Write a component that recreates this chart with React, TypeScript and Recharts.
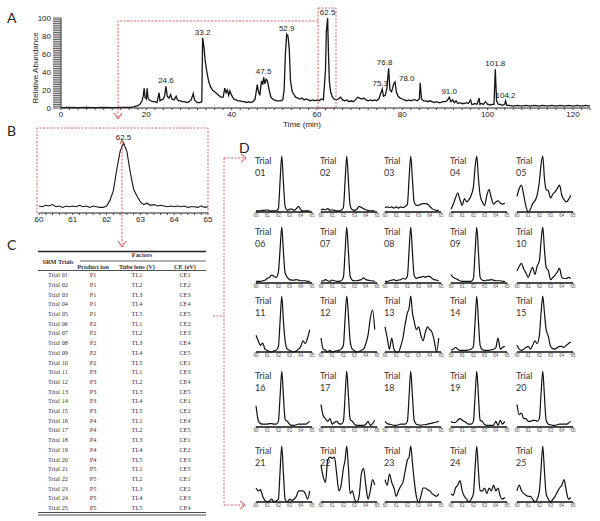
import React from 'react';
import { LineChart, Line, XAxis, YAxis } from 'recharts';

// Panel A: full SRM chromatogram, [time (min), relative abundance]
const SCAN_A: [number, number][] = [
    [0, 0.5], [2, 0.6], [4, 0.4], [6, 0.6], [8, 0.5], [10, 0.6], [12, 0.4], [14, 0.6], [16, 0.8], [17, 1.2],
    [18, 2.5], [18.5, 4], [19, 8], [19.3, 14], [19.5, 22], [19.7, 12], [20, 10], [20.2, 22], [20.4, 11], [20.7, 9],
    [21, 8], [21.5, 7], [22, 7], [22.5, 6], [23, 17], [23.2, 8], [23.5, 9], [24, 10], [24.3, 14], [24.6, 24],
    [24.9, 13], [25.3, 11], [25.7, 15], [26, 10], [26.5, 9], [27, 13], [27.3, 9], [27.6, 8], [28, 8], [28.5, 7],
    [29, 7], [29.5, 6], [30, 7], [30.5, 9], [31, 16], [31.3, 9], [31.7, 7], [32, 6], [32.5, 6], [33, 7],
    [33.2, 78], [33.5, 68], [33.8, 52], [34.2, 40], [34.6, 30], [35, 24], [35.5, 20], [36, 18], [36.5, 16], [37, 14],
    [37.5, 12], [38, 12], [38.4, 22], [38.7, 17], [39, 20], [39.3, 14], [39.6, 19], [40, 14], [40.5, 10], [41, 9],
    [41.5, 8], [42, 8], [42.5, 7], [43, 7], [43.5, 6], [44, 7], [44.5, 6], [45, 7], [45.5, 10], [46, 26],
    [46.3, 18], [46.6, 14], [47, 30], [47.3, 26], [47.5, 34], [47.8, 27], [48.1, 32], [48.4, 30], [48.8, 20], [49.2, 12],
    [49.6, 10], [50, 9], [50.5, 8], [51, 8], [51.5, 8], [52, 9], [52.3, 20], [52.6, 60], [52.9, 82], [53.2, 80],
    [53.5, 66], [53.8, 30], [54.2, 18], [54.6, 15], [55, 12], [55.5, 11], [56, 10], [56.5, 11], [57, 9], [57.5, 10],
    [58, 9], [58.5, 8], [59, 9], [59.5, 8], [60, 9], [60.5, 8], [61, 10], [61.5, 9], [62, 42], [62.2, 85],
    [62.5, 100], [62.7, 60], [62.9, 30], [63.2, 18], [63.6, 12], [64, 10], [64.5, 9], [65, 10], [65.5, 12], [66, 9],
    [66.5, 8], [67, 9], [67.5, 7], [68, 8], [68.5, 7], [69, 9], [69.5, 12], [70, 11], [70.5, 10], [71, 11],
    [71.5, 9], [72, 8], [72.5, 9], [73, 8], [73.5, 9], [74, 8], [74.5, 10], [75, 17], [75.3, 21], [75.6, 13],
    [76, 14], [76.4, 22], [76.8, 44], [77.1, 20], [77.5, 18], [78, 27], [78.3, 29], [78.6, 18], [79, 13], [79.5, 11],
    [80, 10], [80.5, 9], [81, 8], [81.5, 9], [82, 8], [82.5, 9], [83, 9], [83.5, 8], [84, 10], [84.2, 28],
    [84.5, 10], [85, 8], [85.5, 8], [86, 7], [86.5, 8], [87, 7], [87.5, 6], [88, 7], [88.5, 6], [89, 6],
    [89.5, 7], [90, 7], [90.5, 8], [91, 12], [91.4, 7], [91.8, 9], [92.2, 6], [92.6, 8], [93, 5], [93.5, 6],
    [94, 5], [94.5, 5], [95, 6], [95.5, 5], [96, 9], [96.3, 4], [96.6, 4], [97, 5], [97.5, 4], [98, 11],
    [98.2, 4], [98.5, 5], [99, 4], [99.5, 7], [100, 4], [100.3, 4], [100.6, 3], [101, 4], [101.5, 4], [101.8, 43],
    [102.1, 8], [102.5, 4], [103, 4], [103.5, 3], [104, 4], [104.2, 8], [104.5, 3], [105, 3], [106, 2], [107, 3],
    [108, 2], [109, 3], [110, 2], [111, 3], [112, 2], [113, 3], [114, 2], [115, 3], [116, 2], [117, 3],
    [118, 2], [119, 3], [120, 2], [121, 3], [122, 2], [123, 3], [124, 2],
];
const PEAKS_A: [number, string][] = [
    [24.6, '24.6'], [33.2, '33.2'], [47.5, '47.5'], [52.9, '52.9'], [62.5, '62.5'], [75.3, '75.3'],
    [76.8, '76.8'], [78, '78.0'], [91, '91.0'], [101.8, '101.8'], [104.2, '104.2'],
];

// Panel B: zoom on 60-65 min
const ZOOM_B_TIMES = [
    60.0, 60.1, 60.2, 60.3, 60.4, 60.5, 60.6, 60.7, 60.8, 60.9, 61.0, 61.1, 61.2, 61.3, 61.4, 61.5, 61.6,
    61.7, 61.8, 61.9, 62.0, 62.1, 62.2, 62.3, 62.4, 62.5, 62.6, 62.7, 62.8, 62.9, 63.0, 63.1, 63.2, 63.3,
    63.4, 63.5, 63.6, 63.7, 63.8, 63.9, 64.0, 64.1, 64.2, 64.3, 64.4, 64.5, 64.6, 64.7, 64.8, 64.9, 65.0,
];
const ZOOM_B_VALUES = [
    10, 9, 11, 10, 12, 9, 10, 8, 10, 9, 10, 9, 11, 9, 10, 8, 10,
    9, 8, 8, 10, 18, 32, 62, 88, 100, 88, 58, 34, 24, 16, 12, 14, 11,
    12, 10, 11, 10, 9, 10, 9, 10, 9, 10, 8, 9, 9, 8, 10, 8, 9,
];

// Panel C: SRM trial design
const PRODUCT_IONS = [
    'P1', 'P1', 'P1', 'P1', 'P1', 'P2', 'P2', 'P2', 'P2', 'P2', 'P3', 'P3', 'P3',
    'P3', 'P3', 'P4', 'P4', 'P4', 'P4', 'P4', 'P5', 'P5', 'P5', 'P5', 'P5',
];
const TUBE_LENS = [
    'TL1', 'TL2', 'TL3', 'TL4', 'TL5', 'TL1', 'TL2', 'TL3', 'TL4', 'TL5', 'TL1', 'TL2', 'TL3',
    'TL4', 'TL5', 'TL1', 'TL2', 'TL3', 'TL4', 'TL5', 'TL1', 'TL2', 'TL3', 'TL4', 'TL5',
];
const COLLISION_E = [
    'CE1', 'CE2', 'CE3', 'CE4', 'CE5', 'CE2', 'CE3', 'CE4', 'CE5', 'CE1', 'CE3', 'CE4', 'CE5',
    'CE1', 'CE2', 'CE4', 'CE5', 'CE1', 'CE2', 'CE3', 'CE5', 'CE1', 'CE2', 'CE3', 'CE4',
];
const TRIAL_IDS = [
    '01', '02', '03', '04', '05', '06', '07', '08', '09', '10', '11', '12', '13',
    '14', '15', '16', '17', '18', '19', '20', '21', '22', '23', '24', '25',
];

// Panel D: trial traces over 60-64.8 min
const D_TIMES = [
    60, 60.2, 60.4, 60.6, 60.8, 61, 61.2, 61.4, 61.6, 61.8,
    62, 62.15, 62.3, 62.45, 62.6,
    62.8, 63, 63.2, 63.4, 63.6, 63.8, 64, 64.2, 64.4, 64.6, 64.8,
];
const TRIAL_TRACES: number[][] = [
    [2, 2, 2, 3, 3, 4, 2, 2, 2, 2, 6, 55, 100, 52, 10, 3, 5, 5, 3, 6, 10, 4, 2, 2, 2, 2],
    [3, 5, 4, 6, 3, 4, 3, 2, 2, 3, 8, 55, 100, 55, 12, 4, 3, 5, 10, 8, 6, 4, 3, 2, 2, 2],
    [8, 9, 8, 9, 7, 9, 7, 9, 8, 10, 14, 60, 100, 58, 18, 12, 12, 14, 15, 15, 14, 10, 6, 4, 3, 3],
    [5, 14, 25, 34, 22, 12, 24, 18, 22, 30, 45, 80, 100, 60, 30, 18, 12, 30, 40, 25, 14, 18, 20, 16, 14, 16],
    [28, 42, 48, 30, 10, 0, 5, 15, 20, 30, 55, 85, 100, 60, 40, 38, 25, 32, 36, 42, 48, 30, 22, 18, 22, 30],
    [3, 3, 3, 4, 5, 8, 10, 14, 12, 10, 20, 60, 100, 55, 18, 10, 6, 5, 5, 6, 5, 4, 4, 4, 3, 3],
    [3, 4, 6, 4, 3, 5, 4, 3, 3, 4, 10, 55, 100, 55, 12, 5, 4, 4, 5, 6, 9, 6, 5, 4, 4, 3],
    [3, 3, 4, 5, 6, 4, 5, 6, 8, 7, 12, 58, 100, 55, 14, 8, 10, 10, 12, 10, 12, 12, 8, 6, 5, 4],
    [15, 10, 8, 6, 4, 3, 3, 3, 3, 3, 8, 55, 100, 55, 10, 5, 4, 5, 5, 6, 5, 4, 4, 4, 3, 3],
    [22, 30, 35, 25, 18, 10, 20, 28, 15, 30, 40, 75, 100, 60, 28, 22, 6, 10, 14, 20, 26, 10, 8, 8, 10, 8],
    [30, 20, 12, 16, 5, 3, 1, 0, 2, 3, 10, 55, 100, 55, 20, 5, 3, 1, 0, 2, 5, 10, 20, 15, 25, 40],
    [25, 5, 3, 0, 3, 0, 1, 2, 3, 5, 12, 60, 100, 65, 20, 5, 2, 0, 1, 3, 5, 15, 30, 60, 75, 40],
    [45, 25, 5, 25, 5, 0, 0, 10, 25, 50, 70, 78, 100, 70, 55, 40, 45, 30, 20, 35, 45, 40, 35, 20, 0, 25],
    [3, 5, 8, 5, 3, 3, 3, 3, 4, 5, 10, 55, 100, 55, 12, 4, 3, 3, 3, 4, 5, 8, 25, 5, 8, 10],
    [12, 5, 3, 5, 8, 10, 5, 12, 20, 15, 30, 70, 100, 70, 40, 28, 10, 6, 5, 8, 10, 10, 8, 12, 15, 18],
    [38, 12, 6, 5, 5, 5, 6, 6, 5, 5, 10, 55, 100, 55, 14, 10, 5, 3, 3, 4, 5, 5, 5, 5, 7, 10],
    [40, 20, 15, 10, 15, 5, 8, 10, 6, 5, 10, 55, 100, 55, 14, 10, 5, 3, 3, 3, 3, 5, 10, 3, 6, 12],
    [10, 6, 5, 4, 3, 3, 4, 5, 5, 5, 10, 55, 100, 55, 12, 5, 4, 3, 4, 4, 5, 6, 7, 8, 9, 10],
    [10, 8, 8, 12, 15, 12, 10, 7, 5, 5, 10, 55, 100, 55, 12, 10, 4, 3, 3, 3, 3, 10, 3, 12, 5, 10],
    [40, 22, 25, 15, 15, 10, 10, 12, 12, 10, 15, 60, 100, 55, 12, 5, 4, 3, 3, 4, 5, 5, 5, 5, 7, 10],
    [25, 20, 22, 10, 3, 0, 2, 5, 0, 2, 5, 55, 100, 50, 5, 0, 5, 3, 5, 10, 20, 20, 20, 15, 5, 20],
    [65, 45, 35, 75, 80, 78, 80, 50, 20, 30, 60, 75, 100, 60, 15, 20, 5, 0, 10, 50, 60, 30, 5, 20, 40, 30],
    [40, 30, 50, 35, 25, 10, 20, 28, 35, 55, 75, 80, 100, 70, 40, 10, 0, 10, 25, 25, 22, 20, 15, 12, 10, 15],
    [15, 12, 25, 30, 38, 20, 10, 5, 0, 5, 15, 60, 100, 55, 20, 20, 25, 15, 25, 20, 30, 20, 25, 10, 5, 8],
    [20, 30, 20, 15, 12, 10, 10, 5, 0, 5, 20, 60, 100, 55, 15, 5, 0, 5, 10, 18, 25, 30, 40, 20, 5, 8],
];
const D_TICKS = [60, 61, 62, 63, 64, 65];

// layout (px)
const COL_X = [256, 321, 385, 451, 517];
const ROW_AXIS_Y = [212, 283, 352, 427, 502];
const RED = '#d23a3a';
const SANS = '"Liberation Sans", Arial, sans-serif';
const HUMANIST = 'Lato, "Open Sans", sans-serif';
const LABEL_SHIFT: Record<string, number> = { '75.3': -2, '76.8': -4, '78.0': 13 };

const A_X_TICKS = Array.from({ length: 63 }, (_, i) => i * 2);
const A_Y_TICKS = Array.from({ length: 51 }, (_, i) => i * 2);
const B_X_TICKS = Array.from({ length: 26 }, (_, i) => Math.round((60 + i * 0.2) * 10) / 10);

const peakMap = new Map(PEAKS_A);
const dataA = SCAN_A.map(([t, v]) => ({ t, v, lbl: peakMap.get(t) }));
const dataB = ZOOM_B_TIMES.map((t, i) => ({ t, v: ZOOM_B_VALUES[i], lbl: t === 62.5 ? '62.5' : undefined }));

const aXTick = (props: any) => {
    const { x, y, payload } = props;
    if (payload.value % 20 !== 0) return <g />;
    return <text x={x} y={y} dy="0.71em" textAnchor="middle" fontSize={8} fill="#222">{payload.value}</text>;
};

const aYTick = (props: any) => {
    const { x, y, payload } = props;
    if (payload.value % 20 !== 0) return <g />;
    return <text x={x} y={y} dy="0.35em" textAnchor="end" fontSize={8} fill="#222">{payload.value}</text>;
};

const bXTick = (props: any) => {
    const { x, y, payload } = props;
    if (Math.abs(payload.value - Math.round(payload.value)) > 1e-6) return <g />;
    return <text x={x} y={y} dy="0.71em" textAnchor="middle" fontSize={8} fill="#222">{payload.value}</text>;
};

const peakLabel = (props: any) => {
    const { cx, cy, payload, index } = props;
    if (!payload || !payload.lbl) return <g key={`pk-${index}`} />;
    const dx = LABEL_SHIFT[payload.lbl] ?? 0;
    return (
        <text key={`pk-${index}`} x={cx + dx} y={cy - 3} textAnchor="middle" fontSize={8} fill="#222">
            {payload.lbl}
        </text>
    );
};

const TrialChart = ({ idx }: { idx: number }) => {
    const r = Math.floor(idx / 5);
    const c = idx % 5;
    const data = D_TIMES.map((t, i) => ({ t, v: TRIAL_TRACES[idx][i] }));
    return (
        <div style={{ position: 'absolute', left: COL_X[c] - 4, top: ROW_AXIS_Y[r] - 60, width: 64, height: 70 }}>
            <LineChart width={64} height={70} data={data} margin={{ top: 4, right: 4, left: 4, bottom: 0 }}>
                <XAxis dataKey="t" type="number" domain={[60, 65]} ticks={D_TICKS} interval={0}
                    height={10} tickSize={1} tickMargin={1}
                    tick={{ fontSize: 4.5, fill: '#555' }}
                    axisLine={{ stroke: '#111', strokeWidth: 1.5 }} tickLine={{ stroke: '#333' }} />
                <YAxis hide domain={[0, 100]} />
                <Line type="monotone" dataKey="v" stroke="#111" strokeWidth={1.2} dot={false} isAnimationActive={false} />
            </LineChart>
            <div style={{ position: 'absolute', left: 3, top: 3, fontFamily: HUMANIST, fontSize: 9, lineHeight: '12px', color: '#333' }}>
                Trial<br />{TRIAL_IDS[idx]}
            </div>
        </div>
    );
};

export default function App() {
    const rowY = (i: number) => 277.2 + i * 9.7;
    return (
        <div style={{ position: 'absolute', left: 0, top: 0, width: 600, height: 521, background: '#fff', fontFamily: SANS, overflow: 'hidden' }}>
            {/* A */}
            <div style={{ position: 'absolute', left: 0, top: 0 }}>
                <LineChart width={600} height={130} data={dataA} margin={{ top: 18, right: 10, left: 0, bottom: 0 }}>
                    <XAxis dataKey="t" type="number" domain={[0, 124]} ticks={A_X_TICKS} interval={0}
                        height={22} tickSize={2} tickMargin={1} tick={aXTick}
                        axisLine={{ stroke: '#222' }} tickLine={{ stroke: '#444' }} />
                    <YAxis type="number" domain={[0, 100]} ticks={A_Y_TICKS} interval={0}
                        width={61} tickSize={8} tickMargin={2} tick={aYTick}
                        axisLine={{ stroke: '#222' }} tickLine={{ stroke: '#555' }} />
                    <Line type="linear" dataKey="v" stroke="#151515" strokeWidth={1.3} dot={peakLabel} isAnimationActive={false} />
                </LineChart>
            </div>

            {/* B */}
            <div style={{ position: 'absolute', left: 0, top: 128 }}>
                <LineChart width={215} height={100} data={dataB} margin={{ top: 15, right: 7, left: 39, bottom: 0 }}>
                    <XAxis dataKey="t" type="number" domain={[60, 65]} ticks={B_X_TICKS} interval={0}
                        height={15} tickSize={2} tickMargin={1} tick={bXTick}
                        axisLine={{ stroke: '#222', strokeWidth: 1.2 }} tickLine={{ stroke: '#444' }} />
                    <YAxis hide domain={[0, 100]} />
                    <Line type="linear" dataKey="v" stroke="#151515" strokeWidth={1.1} dot={peakLabel} isAnimationActive={false} />
                </LineChart>
            </div>

            {/* D */}
            {TRIAL_IDS.map((_, i) => <TrialChart key={i} idx={i} />)}

            <svg width={600} height={521} style={{ position: 'absolute', left: 0, top: 0, pointerEvents: 'none' }}>
                {/* panel letters */}
                <g fontFamily={HUMANIST} fontSize={14} fill="#222">
                    <text x={7} y={23}>A</text>
                    <text x={7} y={136}>B</text>
                    <text x={7} y={250}>C</text>
                    <text x={239} y={153}>D</text>
                </g>

                {/* axis titles of A */}
                <text x={325} y={127} textAnchor="middle" fontSize={8} fill="#222" dx={-23}>Time (min)</text>
                <text transform="translate(35,68) rotate(-90)" textAnchor="middle" dy="0.35em" fontSize={8} fill="#222">Relative Abundance</text>

                {/* dashed red connectors */}
                <g stroke={RED} strokeWidth={0.8} strokeDasharray="2 1.5" fill="none">
                    <rect x={318} y={8} width={18} height={100} />
                    <polyline points="318,21 118,21 118,118" />
                    <polyline points="37,213 37,128 208,128 208,213" />
                    <line x1={122} y1={141} x2={122} y2={246} />
                    <polyline points="213,316 224,316" />
                    <line x1={224} y1={158} x2={224} y2={505} />
                    <polyline points="224,158 246,158" />
                    <polyline points="224,505 245,505" />
                </g>
                <g stroke={RED} strokeWidth={0.9} fill="none">
                    <polyline points="114,113 118,119 122,113" />
                    <polyline points="118,241 122,247 126,241" />
                    <polyline points="120,144 122,140 124,144" />
                    <polyline points="241,154 246,158 241,162" />
                    <polyline points="240,501 245,505 240,509" />
                </g>

                {/* table C */}
                <g stroke="#222" fill="none">
                    <line x1={38} y1={251.5} x2={206} y2={251.5} strokeWidth={1.6} />
                    <line x1={80} y1={261} x2={206} y2={261} strokeWidth={0.7} />
                    <line x1={38} y1={270.5} x2={206} y2={270.5} strokeWidth={0.8} />
                    <line x1={38} y1={512.5} x2={206} y2={512.5} strokeWidth={0.8} />
                    <line x1={38} y1={515} x2={206} y2={515} strokeWidth={0.8} />
                </g>
                <g fontFamily='"Liberation Serif", "Times New Roman", serif' fontSize={6.3} fill="#333" textAnchor="middle">
                    <text x={142} y={257} fontWeight="bold">Factors</text>
                    <text x={58} y={263.5} fontWeight="bold">SRM Trials</text>
                    <text x={93} y={268.5} fontWeight="bold">Product ion</text>
                    <text x={137} y={268.5} fontWeight="bold">Tube lens (V)</text>
                    <text x={185} y={268.5} fontWeight="bold">CE (eV)</text>
                    {TRIAL_IDS.map((id, i) => (
                        <g key={id}>
                            <text x={58} y={rowY(i)}>{`Trial ${id}`}</text>
                            <text x={93} y={rowY(i)}>{PRODUCT_IONS[i]}</text>
                            <text x={137} y={rowY(i)}>{TUBE_LENS[i]}</text>
                            <text x={185} y={rowY(i)}>{COLLISION_E[i]}</text>
                        </g>
                    ))}
                </g>
            </svg>
        </div>
    );
}
